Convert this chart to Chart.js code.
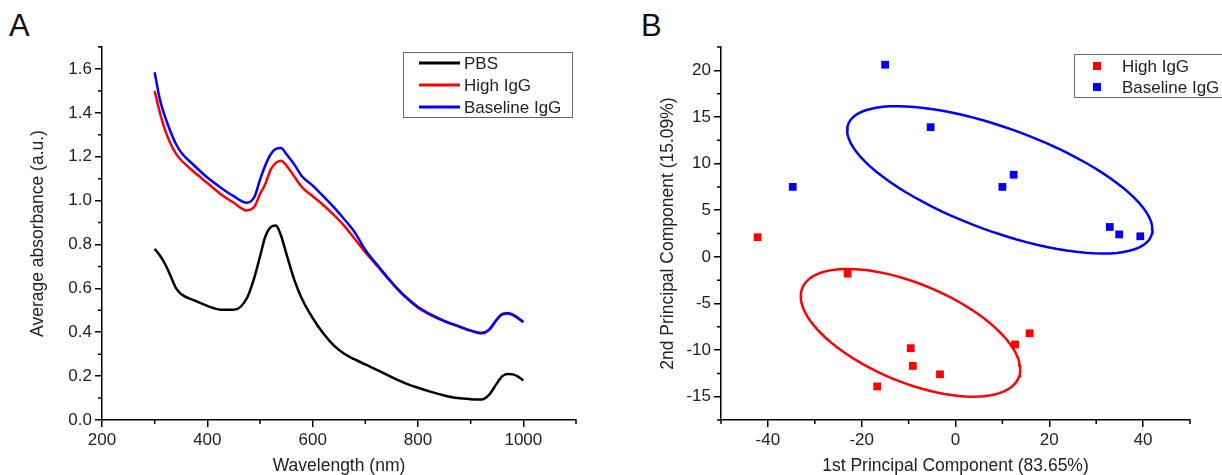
<!DOCTYPE html>
<html>
<head>
<meta charset="utf-8">
<script src="https://cdn.jsdelivr.net/npm/chart.js@4.4.1/dist/chart.umd.min.js"></script>
<style>
  body { margin: 0; background: #fff; width: 1222px; height: 475px; overflow: hidden; position: relative; font-family: "Liberation Sans", Arial, sans-serif; }
  canvas { position: absolute; top: 0; }
  #chartA { left: 0; }
  #chartB { left: 610px; }
  .panel { position: absolute; top: 10px; font-size: 31px; line-height: 1; color: #111; }
</style>
</head>
<body>
<div class="panel" style="left:9px">A</div>
<div class="panel" style="left:641px">B</div>
<canvas id="chartA" width="610" height="475"></canvas>
<canvas id="chartB" width="612" height="475"></canvas>
<script>

// panel A - absorbance spectra
const wavelengths = [300, 310, 320, 330, 340, 350, 375, 400, 425, 450, 475, 490, 500, 510, 520, 530, 540, 550, 565, 580,
    600, 620, 640, 660, 680, 700, 725, 750, 775, 800, 825, 850, 875, 900, 920, 935, 950, 960, 970, 980, 990, 1000];
const pbs = [0.78, 0.75, 0.71, 0.658, 0.603, 0.574, 0.545, 0.52, 0.503, 0.502, 0.555, 0.655, 0.745, 0.835, 0.878, 0.886, 0.84, 0.758, 0.64, 0.55,
    0.465, 0.395, 0.34, 0.302, 0.276, 0.253, 0.225, 0.195, 0.168, 0.147, 0.128, 0.112, 0.1, 0.095, 0.094, 0.115, 0.168, 0.2, 0.21, 0.208, 0.198, 0.18];
const highIgG = [1.5, 1.4, 1.32, 1.26, 1.215, 1.185, 1.13, 1.08, 1.03, 0.99, 0.955, 0.975, 1.03, 1.075, 1.14, 1.172, 1.182, 1.16, 1.11, 1.06,
    1.02, 0.98, 0.935, 0.885, 0.825, 0.765, 0.695, 0.625, 0.562, 0.512, 0.477, 0.45, 0.428, 0.406, 0.395, 0.41, 0.458, 0.481, 0.484, 0.478, 0.463, 0.445];
const baselineIgG = [1.585, 1.46, 1.38, 1.315, 1.26, 1.22, 1.16, 1.105, 1.06, 1.02, 0.99, 1.02, 1.095, 1.16, 1.21, 1.236, 1.24, 1.212, 1.165, 1.11,
    1.068, 1.02, 0.97, 0.915, 0.855, 0.775, 0.7, 0.628, 0.565, 0.515, 0.48, 0.452, 0.43, 0.408, 0.397, 0.412, 0.46, 0.483, 0.486, 0.48, 0.465, 0.447];

const wlTicks = [200, 400, 600, 800, 1000];
const wlMinor = [300, 500, 700, 900, 1100];
const absTicks = [0, 0.2, 0.4, 0.6, 0.8, 1.0, 1.2, 1.4, 1.6];
const absMinor = [0.1, 0.3, 0.5, 0.7, 0.9, 1.1, 1.3, 1.5, 1.7];

// panel B - PCA scores
const highPC1 = [-42.2, -23.0, -16.7, -9.55, -9.1, -3.3, 12.7, 15.8];
const highPC2 = [2.1, -1.8, -13.9, -9.8, -11.7, -12.6, -9.4, -8.2];
const basePC1 = [-15.0, -34.7, -5.3, 10.0, 12.4, 32.9, 34.9, 39.4];
const basePC2 = [20.6, 7.5, 13.9, 7.5, 8.8, 3.2, 2.4, 2.2];

// confidence ellipses: centre pc1, centre pc2, half range pc1, half range pc2, phase
const highEllipse = [-9.6, -8.15, 23.4, 6.85, 2.18];
const baseEllipse = [9.45, 8.25, 32.55, 7.9, 2.31];

const pc1Ticks = [-40, -20, 0, 20, 40];
const pc1Minor = [-50, -30, -10, 10, 30, 50];
const pc2Ticks = [-15, -10, -5, 0, 5, 10, 15, 20];
const pc2Minor = [-17.5, -12.5, -7.5, -2.5, 2.5, 7.5, 12.5, 17.5, 22.5];


const FONT = '"Liberation Sans", Arial, sans-serif';
const TEXT = '#222';

function ellipsePoints(e) {
    let pts = [];
    for (let i = 0; i <= 90; i++) {
        let t = i / 90 * 2 * Math.PI;
        pts.push({ x: e[0] + e[2] * Math.cos(t), y: e[1] + e[3] * Math.cos(t - e[4]) });
    }
    return pts;
}

function axis(min, max, ticks, title, titlePad, size, fmt) {
    return {
        type: 'linear',
        min: min,
        max: max,
        afterBuildTicks: s => { s.ticks = ticks.map(v => ({ value: v })); },
        afterFit: s => { if (s.isHorizontal()) s.height = size; else s.width = size; },
        border: { display: true, color: '#000', width: 1.5 },
        grid: { drawOnChartArea: false, drawTicks: true, tickLength: 7, color: '#000', lineWidth: 1.5 },
        ticks: { color: TEXT, font: { family: FONT, size: 17 }, padding: 3, callback: fmt },
        title: { display: true, text: title, color: TEXT, font: { family: FONT, size: 17.5, lineHeight: 1 }, padding: titlePad },
    };
}

// small unlabelled ticks between the labelled ones
const minorTicks = {
    id: 'minorTicks',
    afterDraw(chart, args, opts) {
        const { ctx, scales: { x, y } } = chart;
        ctx.save();
        ctx.strokeStyle = '#000';
        ctx.lineWidth = 1.5;
        ctx.beginPath();
        opts.x.forEach(v => {
            let p = x.getPixelForValue(v);
            ctx.moveTo(p, x.top);
            ctx.lineTo(p, x.top + 4);
        });
        opts.y.forEach(v => {
            let p = y.getPixelForValue(v);
            ctx.moveTo(y.right, p);
            ctx.lineTo(y.right - 4, p);
        });
        ctx.stroke();
        ctx.restore();
    }
};

// framed legend inside the plot, like the original
const legendBox = {
    id: 'legendBox',
    afterDraw(chart, args, opts) {
        const ctx = chart.ctx;
        ctx.save();
        ctx.strokeStyle = '#666';
        ctx.lineWidth = 1;
        ctx.strokeRect(opts.x + 0.5, opts.y + 0.5, opts.w, opts.h);
        ctx.font = '17px ' + FONT;
        ctx.textBaseline = 'middle';
        opts.items.forEach((idx, i) => {
            let ds = chart.data.datasets[idx];
            let cy = opts.y + opts.first + i * opts.gap;
            if (opts.kind === 'line') {
                ctx.strokeStyle = ds.borderColor;
                ctx.lineWidth = 3;
                ctx.beginPath();
                ctx.moveTo(opts.mx, cy);
                ctx.lineTo(opts.mx + 41, cy);
                ctx.stroke();
            } else {
                ctx.fillStyle = ds.backgroundColor;
                ctx.fillRect(opts.mx - 4, cy - 4, 8, 8);
            }
            ctx.fillStyle = TEXT;
            ctx.fillText(ds.label, opts.tx, cy + 1);
        });
        ctx.restore();
    }
};

const spectrum = (ys) => wavelengths.map((w, i) => ({ x: w, y: ys[i] }));

const configA = {
    type: 'line',
    data: {
        datasets: [
            { label: 'PBS', data: spectrum(pbs), borderColor: '#000', order: 2 },
            { label: 'High IgG', data: spectrum(highIgG), borderColor: '#ff0000', order: 1 },
            { label: 'Baseline IgG', data: spectrum(baselineIgG), borderColor: '#0000ff', order: 0 },
        ]
    },
    options: {
        responsive: false,
        animation: false,
        layout: { padding: { top: 47, right: 34, left: 0, bottom: 0 } },
        elements: {
            line: { borderWidth: 2.5, cubicInterpolationMode: 'monotone', fill: false },
            point: { radius: 0 },
        },
        scales: {
            x: axis(200, 1100, wlTicks, 'Wavelength (nm)', { top: 0, bottom: 0 }, 55, v => String(v)),
            y: axis(0, 1.7, absTicks, 'Average absorbance (a.u.)', { top: 29, bottom: 0 }, 102, v => v.toFixed(1)),
        },
        plugins: {
            legend: { display: false },
            tooltip: { enabled: false },
            minorTicks: { x: wlMinor, y: absMinor },
            legendBox: { kind: 'line', items: [0, 1, 2], x: 403, y: 52, w: 169, h: 65, first: 11, gap: 22, mx: 419, tx: 464 },
        },
    },
    plugins: [minorTicks, legendBox],
};

const scores = (xs, ys) => xs.map((v, i) => ({ x: v, y: ys[i] }));

const configB = {
    type: 'scatter',
    data: {
        datasets: [
            { label: 'High IgG', data: scores(highPC1, highPC2), backgroundColor: '#ff0000', pointStyle: 'rect', pointRadius: 5.5, borderWidth: 0, order: 0 },
            { label: 'Baseline IgG', data: scores(basePC1, basePC2), backgroundColor: '#0000ff', pointStyle: 'rect', pointRadius: 5.5, borderWidth: 0, order: 0 },
            { label: 'High IgG ellipse', data: ellipsePoints(highEllipse), showLine: true, borderColor: '#ff0000', borderWidth: 2.5, pointRadius: 0, order: 1 },
            { label: 'Baseline IgG ellipse', data: ellipsePoints(baseEllipse), showLine: true, borderColor: '#0000ff', borderWidth: 2.5, pointRadius: 0, order: 1 },
        ]
    },
    options: {
        responsive: false,
        animation: false,
        layout: { padding: { top: 47, right: 32, left: 0, bottom: 0 } },
        scales: {
            x: axis(-50, 50, pc1Ticks, '1st Principal Component (83.65%)', { top: 0, bottom: 0 }, 55, v => String(v)),
            y: axis(-17.5, 22.5, pc2Ticks, '2nd Principal Component (15.09%)', { top: 49, bottom: 0 }, 111, v => String(v)),
        },
        plugins: {
            legend: { display: false },
            tooltip: { enabled: false },
            minorTicks: { x: pc1Minor, y: pc2Minor },
            legendBox: { kind: 'square', items: [0, 1], x: 464, y: 54, w: 160, h: 43, first: 12, gap: 21, mx: 487, tx: 512 },
        },
    },
    plugins: [minorTicks, legendBox],
};

const chartA = new Chart(document.getElementById('chartA'), configA);
const chartB = new Chart(document.getElementById('chartB'), configB);
</script>
</body>
</html>
